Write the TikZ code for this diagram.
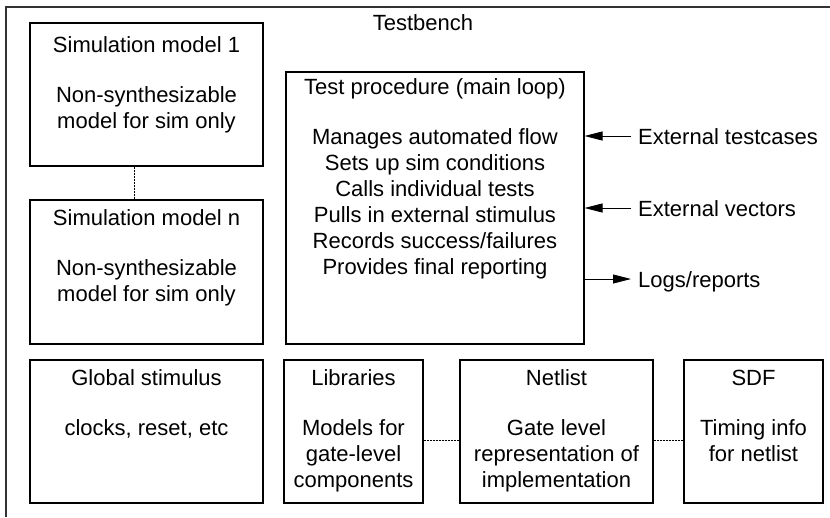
\documentclass[tikz,border=0pt]{standalone}
\usepackage{fontspec}
\setmainfont{Liberation Sans}
\usetikzlibrary{arrows.meta,positioning}

\begin{document}
\begin{tikzpicture}[
  x=1pt, y=-1pt,
  >={Triangle[length=18pt,width=9pt]},
  font=\fontsize{22}{26}\selectfont,
  blk/.style={draw, line width=1.1pt, inner sep=0pt},
  txt/.style={anchor=north, align=center, inner sep=0pt},
  ext/.style={anchor=west, inner xsep=7pt, inner ysep=0pt, text height=16pt, text depth=0pt},
  link/.style={line width=0.8pt, dash pattern=on 2pt off 1pt}
]
\useasboundingbox (0,0) rectangle (830,517);
% testbench frame (cut off at the right and bottom)
\draw[line width=1.4pt, black!80] (830,7) -- (6,7) -- (6,517);
\node[anchor=base] (tb) at (423,30) {Testbench};

% boxes
\node[blk, minimum width=233pt, minimum height=143pt] (sim1) at (146.5,94.5) {};
\node[blk, minimum width=233pt, minimum height=144pt] (simn) at (146.5,272) {};
\node[blk, minimum width=298pt, minimum height=272pt] (test) at (435,208) {};
\node[blk, minimum width=233pt, minimum height=143pt] (glob) at (146.5,431.5) {};
\node[blk, minimum width=139pt, minimum height=143pt] (lib) at (353.5,431.5) {};
\node[blk, minimum width=193pt, minimum height=143pt] (net) at (556.5,431.5) {};
\node[blk, minimum width=139pt, minimum height=143pt] (sdf) at (753.5,431.5) {};

% box texts
\node[txt] (sim1-t) at (146.5,34) {\strut Simulation model 1\\[24pt]Non-synthesizable\\model for sim only};
\node[txt] (simn-t) at (146.5,207) {\strut Simulation model n\\[24pt]Non-synthesizable\\model for sim only};
\node[txt] (test-t) at (435,76) {\strut Test procedure (main loop)\\[24pt]Manages automated flow\\Sets up sim conditions\\Calls individual tests\\Pulls in external stimulus\\Records success/failures\\Provides final reporting};
\node[txt] (glob-t) at (146.5,367) {\strut Global stimulus\\[24pt]clocks, reset, etc};
\node[txt] (lib-t) at (353.5,367) {\strut Libraries\\[24pt]Models for\\gate-level\\components};
\node[txt] (net-t) at (556.5,367) {\strut Netlist\\[24pt]Gate level\\representation of\\implementation};
\node[txt] (sdf-t) at (753.5,367) {\strut SDF\\[24pt]Timing info\\for netlist};

% external files
\node[ext] (cases) at (631,136) {External testcases};
\node[ext] (vecs) at (631,208) {External vectors};
\node[ext] (logs) at (631,279) {Logs/reports};

\draw[->, line width=0.9pt] (cases.west) -- (cases.west -| test.east);
\draw[->, line width=0.9pt] (vecs.west) -- (vecs.west -| test.east);
\draw[->, line width=0.9pt] (logs.west -| test.east) -- (logs.west);

% dotted links
\draw[link] ([xshift=-12.5pt]sim1.south) -- ([xshift=-12.5pt]simn.north);
\draw[link] ([yshift=-8.5pt]lib.east) -- ([yshift=-8.5pt]net.west);
\draw[link] ([yshift=-8.5pt]net.east) -- ([yshift=-8.5pt]sdf.west);
\end{tikzpicture}
\end{document}
